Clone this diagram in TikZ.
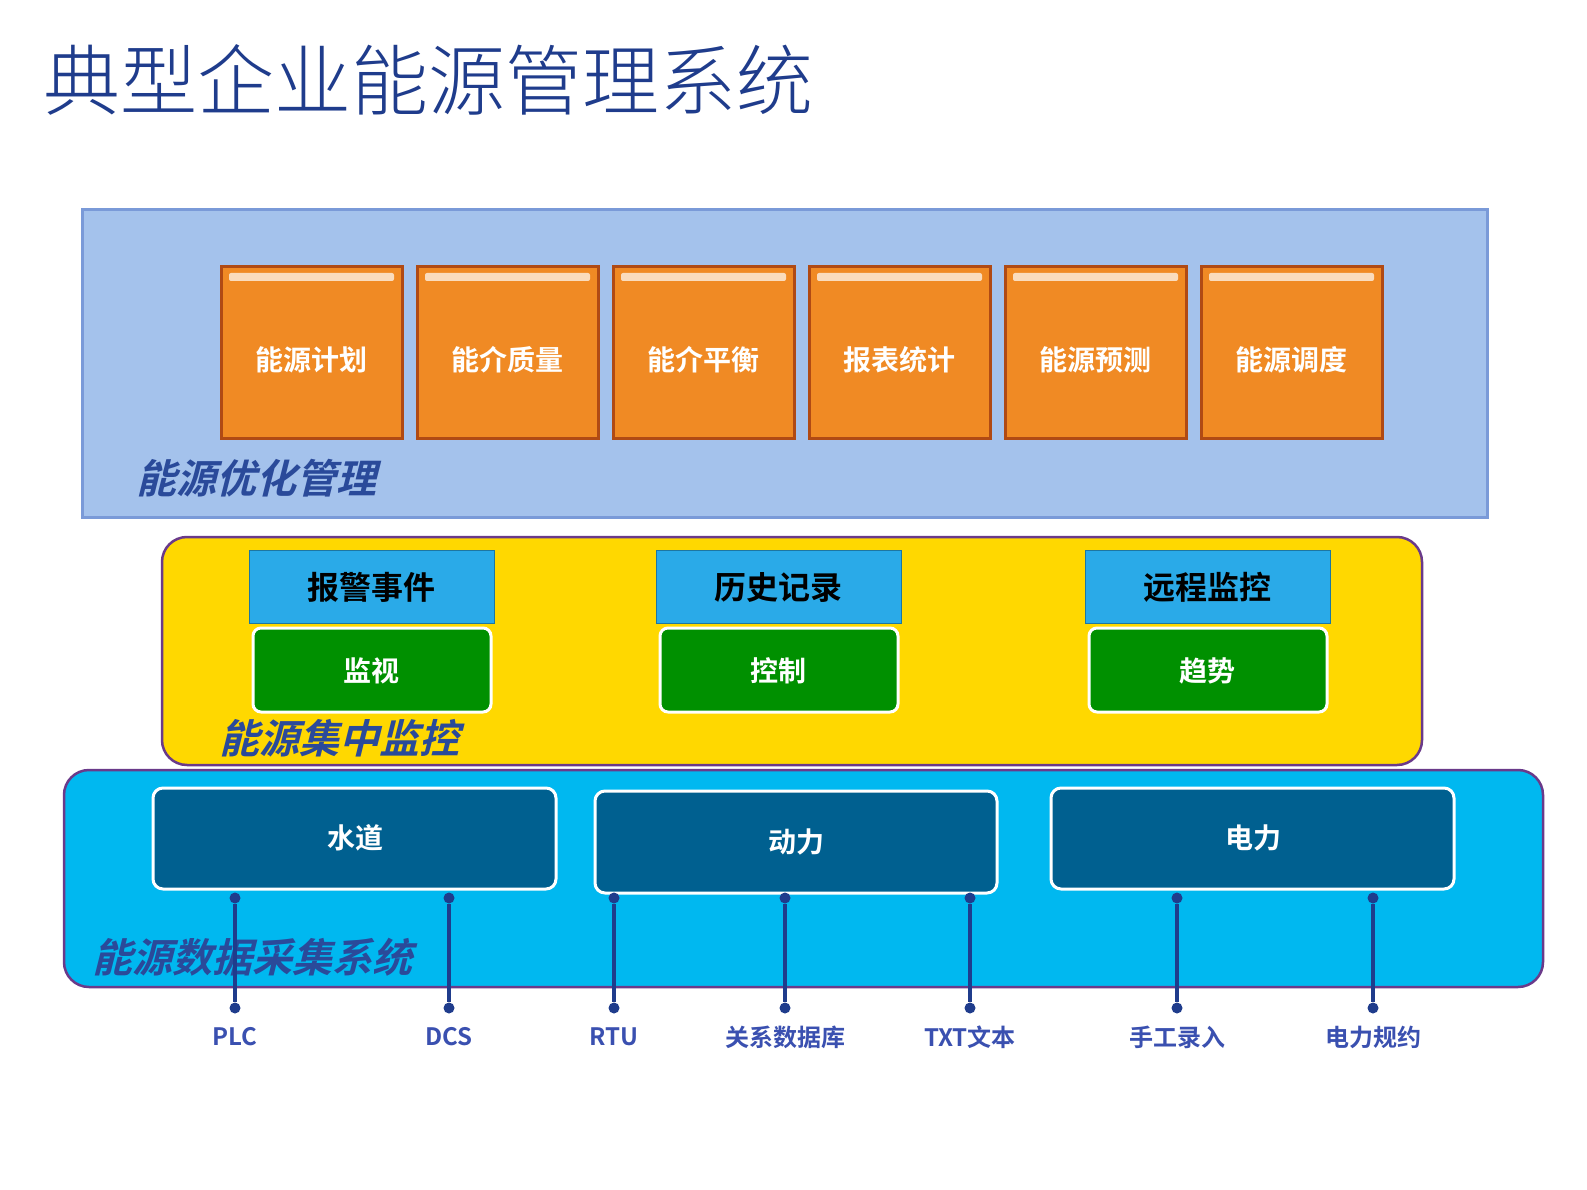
\documentclass[tikz,border=0pt]{standalone}
\usepackage{fontspec}
\setmainfont{Liberation Sans}
\newfontfamily\cjk{Noto Sans CJK SC Light}
\newfontfamily\cjkb{Noto Sans CJK SC Bold}
\newfontfamily\cjki[FakeSlant=0.25]{Noto Sans CJK SC Bold}
\definecolor{ttl}{HTML}{1F3C8C}
\definecolor{lbl}{HTML}{2A4A9A}
\definecolor{orng}{HTML}{F08A24}
\definecolor{orngd}{HTML}{B04A14}
\definecolor{hdr}{HTML}{2AAAE8}
\definecolor{grn}{HTML}{009000}
\definecolor{dblue}{HTML}{006090}
\definecolor{cyanp}{HTML}{00B8F0}
\definecolor{ylw}{HTML}{FFD800}
\definecolor{purp}{HTML}{6A3A8A}
\definecolor{lb}{HTML}{A4C2EC}
\definecolor{lbd}{HTML}{7A9AD8}
\definecolor{line}{HTML}{1F3C8C}
\definecolor{bot}{HTML}{3A50B0}
\tikzset{
 obox/.style={fill=orng,draw=orngd,line width=3pt,inner sep=0pt},
 hbox/.style={fill=hdr,draw=hdr!70!black,line width=1pt},
 gbox/.style={fill=grn,draw=white,line width=3pt,rounded corners=8pt},
 dbox/.style={fill=dblue,draw=white,line width=3pt,rounded corners=10pt},
 tw/.style={text=white,font=\cjkb\fontsize{28}{30}\selectfont},
 layer/.style={font=\cjki\fontsize{40}{44}\selectfont,text=lbl,anchor=west},
 dot/.style={circle,fill=line,inner sep=0pt,minimum size=11pt},
 btm/.style={font=\cjkb\fontsize{24}{26}\selectfont,text=bot}
}
\begin{document}
\begin{tikzpicture}[x=1pt,y=-1pt]
\useasboundingbox (0,0) rectangle (1587,1190);
\fill[white] (0,0) rectangle (1587,1190);
\node[anchor=west,text=ttl,font=\cjk\fontsize{77}{80}\selectfont] (title) at (40,80) {典型企业能源管理系统};
% top panel
\draw[fill=lb,draw=lbd,line width=3pt] (82,210) rectangle (1487,517);
\foreach \x/\t [count=\i] in {221/能源计划,417/能介质量,613/能介平衡,809/报表统计,1005/能源预测,1201/能源调度}{
  \draw[obox] (\x,267) rectangle ++(181,171);
  \fill[white,opacity=0.7,rounded corners=2pt] (\x+8,273) rectangle ++(165,8);
  \node[tw] (o\i) at (\x+90,360) {\t};
}
\node[layer] (l1) at (133,478) {能源优化管理};
% yellow panel
\draw[fill=ylw,draw=purp,line width=2.5pt,rounded corners=25pt] (162,537) rectangle (1422,765);
\foreach \x/\a/\b [count=\i] in {249/报警事件/监视,656/历史记录/控制,1085/远程监控/趋势}{
  \draw[hbox] (\x,550) rectangle ++(245,73);
  \node[font=\cjkb\fontsize{32}{34}\selectfont] (h\i) at (\x+122,587) {\a};
  \draw[gbox] (\x+4,628) rectangle ++(238,84);
  \node[tw] (g\i) at (\x+122,671) {\b};
}
\node[layer] (l2) at (216,738) {能源集中监控};
% cyan panel
\draw[fill=cyanp,draw=purp,line width=2.5pt,rounded corners=25pt] (64,770) rectangle (1543,987);
\draw[dbox] (153,788) rectangle (556,889); \node[tw] (d1) at (355,838) {水道};
\draw[dbox] (595,791) rectangle (997,893); \node[tw] (d2) at (796,842) {动力};
\draw[dbox] (1051,788) rectangle (1454,889); \node[tw] (d3) at (1253,838) {电力};
\node[layer] (l3) at (89,957) {能源数据采集系统};
\foreach \x/\t [count=\i] in {235/PLC,449/DCS,614/RTU,785/关系数据库,970/TXT文本,1177/手工录入,1373/电力规约}{
  \node[dot] (a\i) at (\x,898) {};
  \node[dot] (b\i) at (\x,1008) {};
  \draw[line,line width=3.5pt] (a\i) -- (b\i);
  \node[btm] (t\i) at (\x,1037) {\cjkb \t};
}
\end{tikzpicture}
\end{document}
